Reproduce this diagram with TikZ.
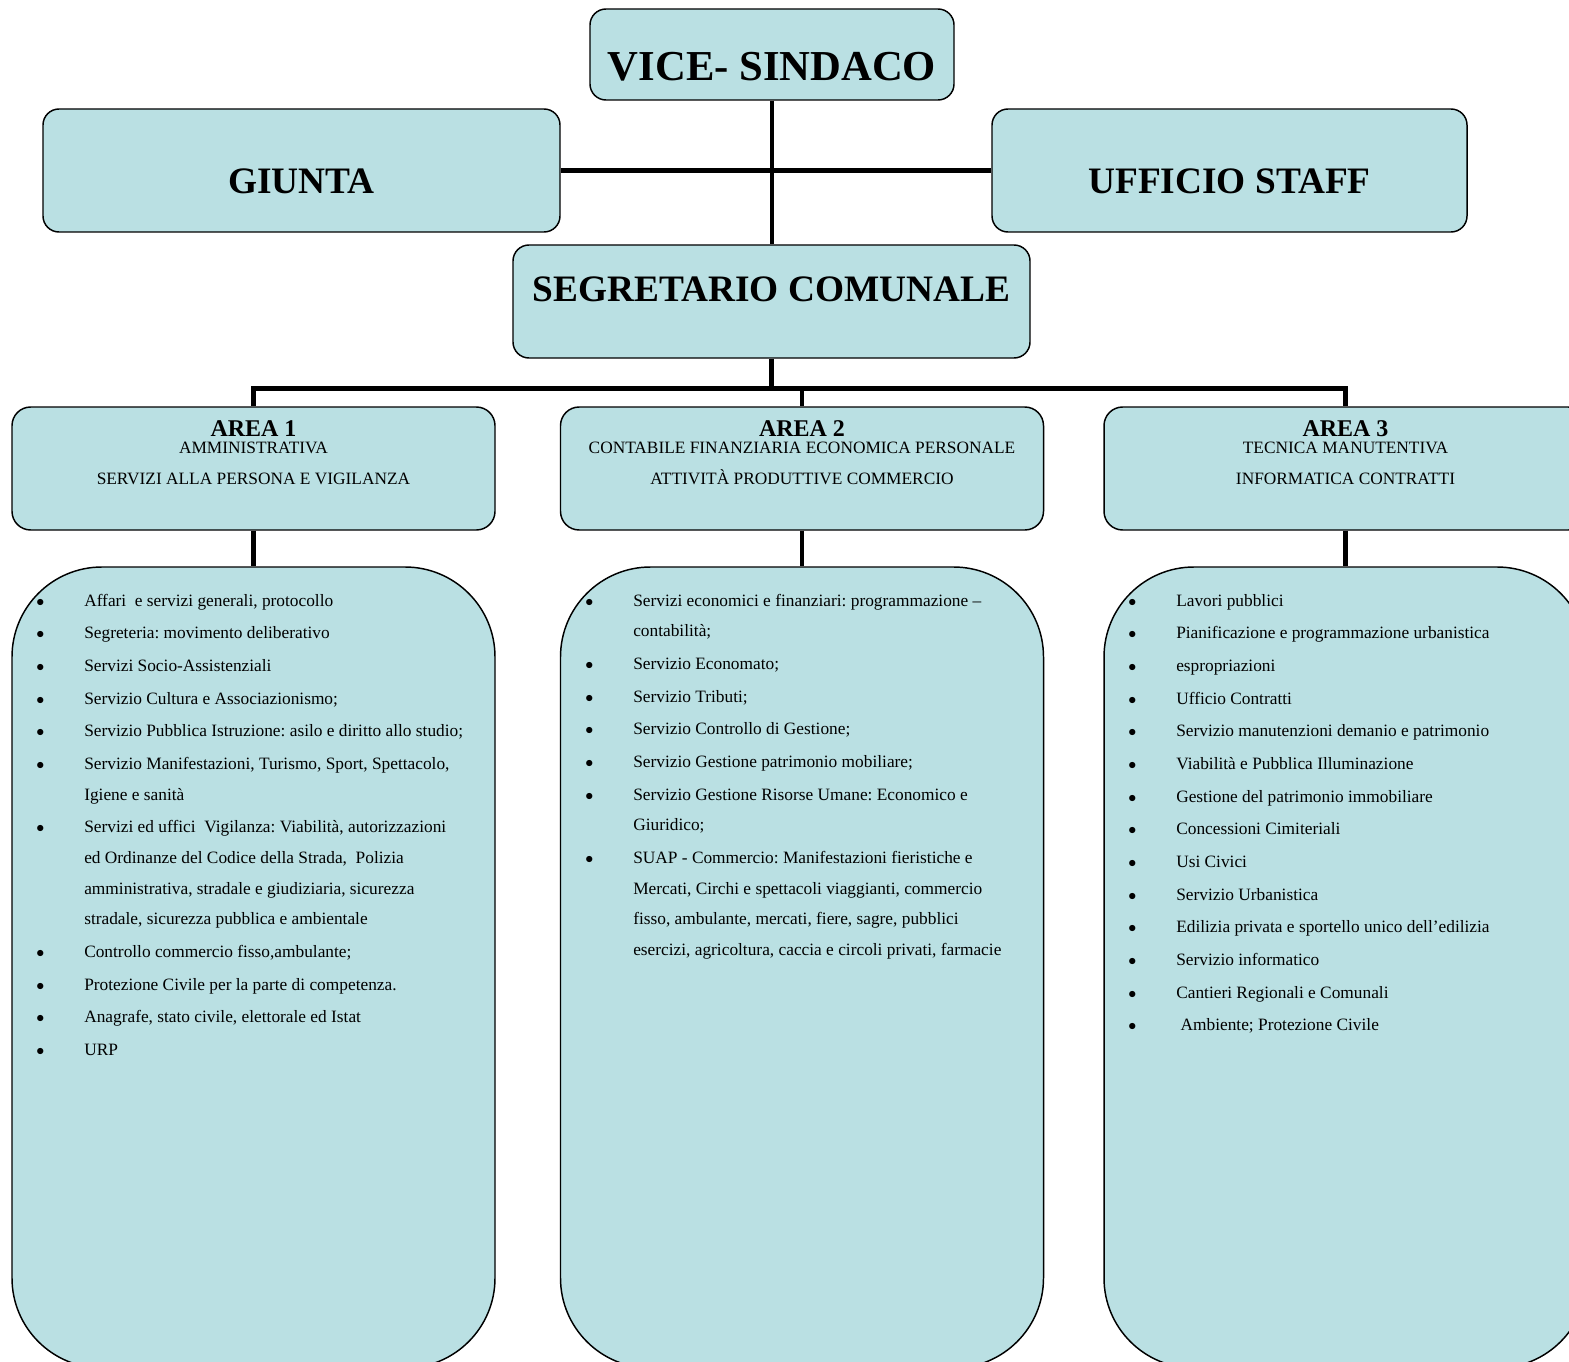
\documentclass[tikz,border=0pt]{standalone}
\usepackage{fontspec}
\setmainfont{Liberation Serif}
\usepackage{xcolor}
\usepackage{tikz}
\usetikzlibrary{positioning}
\definecolor{azzurro}{RGB}{186,224,227}
\frenchspacing

\begin{document}
\begin{tikzpicture}[x=0.75pt,y=-0.75pt,
    cassa/.style={draw=black,line width=1.1pt,fill=azzurro,rounded corners=12pt,inner sep=0pt,align=center},
    titolo/.style={cassa,font=\fontsize{28}{30}\selectfont\bfseries,minimum height=92.25pt,text depth=0pt},
    areabox/.style={cassa,minimum width=362.25pt,minimum height=92.25pt,rounded corners=14pt},
    areatxt/.style={inner sep=0pt,align=center,font=\fontsize{13}{12.75}\selectfont},
    listabox/.style={cassa,minimum width=362.25pt,minimum height=600.75pt,rounded corners=67.5pt},
    lista/.style={inner sep=0pt,anchor=base west,font=\fontsize{13}{23}\selectfont},
    linea/.style={line width=3.6pt}]
                \useasboundingbox (0,0) rectangle (1569,1362);
                \clip (0,0) rectangle (1569,1362);
                \node (vice) [titolo,font=\fontsize{32}{34}\selectfont\bfseries,minimum width=273pt,minimum height=68.25pt,text height=39pt] at (772,54.5) {VICE- SINDACO};
                \node (giunta) [titolo,minimum width=387.75pt,text height=33.8pt] at (301.5,170.5) {GIUNTA};
                \node (staff) [titolo,minimum width=356.25pt,text height=33.8pt] at (1229.5,170.5) {UFFICIO STAFF};
                \node (segr) [titolo,minimum width=387.75pt,minimum height=84.75pt,text height=19pt,text depth=19pt] at (771.5,301.5) {SEGRETARIO COMUNALE};
                \node (area1) [areabox] at (253.5,468.5) {};
                \node (area2) [areabox] at (802,468.5) {};
                \node (area3) [areabox] at (1345.5,468.5) {};
                \node (titolo1) [areatxt,below=10.5pt of area1.north] {{\fontsize{18}{18}\selectfont\bfseries AREA 1}\\AMMINISTRATIVA\\[10.85pt]SERVIZI ALLA PERSONA E VIGILANZA};
                \node (titolo2) [areatxt,below=10.5pt of area2.north] {{\fontsize{18}{18}\selectfont\bfseries AREA 2}\\CONTABILE FINANZIARIA ECONOMICA PERSONALE\\[10.85pt]ATTIVITÀ PRODUTTIVE COMMERCIO};
                \node (titolo3) [areatxt,below=10.5pt of area3.north] {{\fontsize{18}{18}\selectfont\bfseries AREA 3}\\TECNICA MANUTENTIVA\\[10.85pt]INFORMATICA CONTRATTI};
                \node (lista1) [listabox] at (253.5,967.5) {};
                \node (lista2) [listabox] at (802,967.5) {};
                \node (lista3) [listabox] at (1345.5,967.5) {};
                \node (voci1) [lista] at (36,606) {\begin{tabular}[t]{@{}p{36pt}@{}l@{}}
                    $\bullet$ & Affari\ \ e servizi generali, protocollo\\[1.5pt]
                    $\bullet$ & Segreteria: movimento deliberativo\\[1.5pt]
                    $\bullet$ & Servizi Socio-Assistenziali\\[1.5pt]
                    $\bullet$ & Servizio Cultura e Associazionismo;\\[1.5pt]
                    $\bullet$ & Servizio Pubblica Istruzione: asilo e diritto allo studio;\\[1.5pt]
                    $\bullet$ & Servizio Manifestazioni, Turismo, Sport, Spettacolo,\\
                              & Igiene e sanità\\[1.5pt]
                    $\bullet$ & Servizi ed uffici\ \ Vigilanza: Viabilità, autorizzazioni\\
                              & ed Ordinanze del Codice della Strada,\ \ Polizia\\
                              & amministrativa, stradale e giudiziaria, sicurezza\\
                              & stradale, sicurezza pubblica e ambientale\\[1.5pt]
                    $\bullet$ & Controllo commercio fisso,ambulante;\\[1.5pt]
                    $\bullet$ & Protezione Civile per la parte di competenza.\\[1.5pt]
                    $\bullet$ & Anagrafe, stato civile, elettorale ed Istat\\[1.5pt]
                    $\bullet$ & URP
                \end{tabular}};
                \node (voci2) [lista] at (585,606) {\begin{tabular}[t]{@{}p{36pt}@{}l@{}}
                    $\bullet$ & Servizi economici e finanziari: programmazione –\\
                              & contabilità;\\[1.5pt]
                    $\bullet$ & Servizio Economato;\\[1.5pt]
                    $\bullet$ & Servizio Tributi;\\[1.5pt]
                    $\bullet$ & Servizio Controllo di Gestione;\\[1.5pt]
                    $\bullet$ & Servizio Gestione patrimonio mobiliare;\\[1.5pt]
                    $\bullet$ & Servizio Gestione Risorse Umane: Economico e\\
                              & Giuridico;\\[1.5pt]
                    $\bullet$ & SUAP - Commercio: Manifestazioni fieristiche e\\
                              & Mercati, Circhi e spettacoli viaggianti, commercio\\
                              & fisso, ambulante, mercati, fiere, sagre, pubblici\\
                              & esercizi, agricoltura, caccia e circoli privati, farmacie
                \end{tabular}};
                \node (voci3) [lista] at (1128,606) {\begin{tabular}[t]{@{}p{36pt}@{}l@{}}
                    $\bullet$ & Lavori pubblici\\[1.5pt]
                    $\bullet$ & Pianificazione e programmazione urbanistica\\[1.5pt]
                    $\bullet$ & espropriazioni\\[1.5pt]
                    $\bullet$ & Ufficio Contratti\\[1.5pt]
                    $\bullet$ & Servizio manutenzioni demanio e patrimonio\\[1.5pt]
                    $\bullet$ & Viabilità e Pubblica Illuminazione\\[1.5pt]
                    $\bullet$ & Gestione del patrimonio immobiliare\\[1.5pt]
                    $\bullet$ & Concessioni Cimiteriali\\[1.5pt]
                    $\bullet$ & Usi Civici\\[1.5pt]
                    $\bullet$ & Servizio Urbanistica\\[1.5pt]
                    $\bullet$ & Edilizia privata e sportello unico dell’edilizia\\[1.5pt]
                    $\bullet$ & Servizio informatico\\[1.5pt]
                    $\bullet$ & Cantieri Regionali e Comunali\\[1.5pt]
                    $\bullet$ & \ Ambiente; Protezione Civile
                \end{tabular}};
                \draw[linea] (vice.south) -- (vice.south |- segr.north);
                \draw[linea] (giunta.east) -- (staff.west);
                \draw[linea] (segr.south) -- ++(0,29.5) coordinate (bus);
                \draw[linea] (area1.north) -- (area1.north |- bus) -- (area3.north |- bus) -- (area3.north);
                \foreach \n in {1,2,3} {
                    \draw[linea] (area\n.north |- bus) -- (area\n.north);
                    \draw[linea] (area\n.south) -- (lista\n.north);
                }
\end{tikzpicture}
\end{document}
